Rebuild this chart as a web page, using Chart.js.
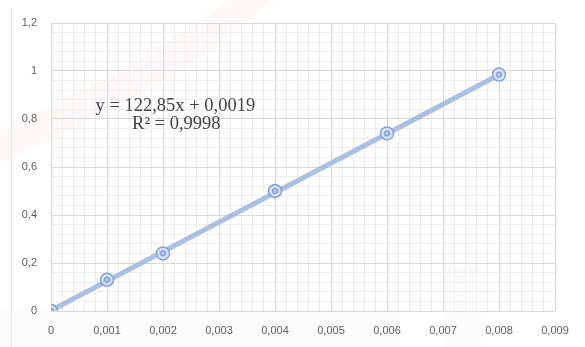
<!DOCTYPE html>
<html>
<head>
<meta charset="utf-8">
<script src="https://cdn.jsdelivr.net/npm/chart.js@4/dist/chart.umd.min.js"></script>
<style>
  html, body { margin: 0; padding: 0; background: #ffffff; }
  #wrap { width: 585px; height: 347px; position: relative; }
</style>
</head>
<body>
<div id="wrap"><canvas id="c" width="585" height="347"></canvas></div>
<script>
// Calibration measurements: concentration (x) and response (y)
const concentrations = [0, 0.001, 0.002, 0.004, 0.006, 0.008];
const responses = [0, 0.13, 0.24, 0.50, 0.74, 0.985];

// Linear trendline coefficients and fit quality
const slope = 122.85;
const intercept = 0.0019;
const rSquared = 0.9998;

// Axis tick labels (major) and gridline steps
const xTickLabels = ['0', '0,001', '0,002', '0,003', '0,004', '0,005', '0,006', '0,007', '0,008', '0,009'];
const yTickLabels = ['0', '0,2', '0,4', '0,6', '0,8', '1', '1,2'];
const xMajorStep = 0.001, xMinorPerMajor = 5;
const yMajorStep = 0.2, yMinorPerMajor = 5;

const points = concentrations.map((x, i) => ({ x, y: responses[i] }));
const xEnd = concentrations[concentrations.length - 1];
const trend = [
  { x: 0, y: intercept },
  { x: xEnd, y: slope * xEnd + intercept }
];

const eqText = 'y = ' + String(slope).replace('.', ',') + 'x + ' + String(intercept).replace('.', ',');
const r2Text = 'R\u00B2 = ' + String(rSquared).replace('.', ',');

// Build major + minor ticks; labels only on the majors
function buildTicks(labels, majorStep, perMajor) {
  const ticks = [];
  const n = (labels.length - 1) * perMajor;
  for (let i = 0; i <= n; i++) {
    const major = i % perMajor === 0;
    ticks.push({ value: +(i * majorStep / perMajor).toFixed(8), major, label: major ? labels[i / perMajor] : '' });
  }
  return ticks;
}

// Faint background decoration behind the plot
const backdrop = {
  id: 'backdrop',
  beforeDraw(chart) {
    const ctx = chart.ctx;
    ctx.save();
    ctx.fillStyle = '#ffffff';
    ctx.fillRect(0, 0, chart.width, chart.height);
    // soft warm arc on the upper left
    ctx.strokeStyle = 'rgba(245, 175, 155, 0.08)';
    ctx.lineWidth = 30;
    ctx.beginPath();
    ctx.moveTo(-10, 150);
    ctx.quadraticCurveTo(160, 80, 262, -10);
    ctx.stroke();
    // soft blue shapes along the bottom
    ctx.fillStyle = 'rgba(175, 198, 232, 0.08)';
    ctx.fillRect(0, 310, 400, 37);
    ctx.fillRect(445, 266, 36, 81);
    ctx.restore();
  },
  afterDraw(chart) {
    const ctx = chart.ctx;
    ctx.save();
    // thin chart frame line on the left
    ctx.strokeStyle = '#e6e6e6';
    ctx.lineWidth = 1;
    ctx.beginPath();
    ctx.moveTo(11.5, 8);
    ctx.lineTo(11.5, 347);
    ctx.stroke();
    // trendline equation
    const xs = chart.scales.x, ys = chart.scales.y;
    ctx.fillStyle = '#454545';
    ctx.font = '18.5px "Liberation Serif", "DejaVu Serif", serif';
    ctx.textAlign = 'center';
    ctx.textBaseline = 'middle';
    const cx = xs.getPixelForValue(0.00222);
    ctx.fillText(eqText, cx, ys.getPixelForValue(0.855));
    ctx.fillText(r2Text, cx + 1, ys.getPixelForValue(0.78));
    ctx.restore();
  }
};

new Chart(document.getElementById('c'), {
  type: 'scatter',
  data: {
    datasets: [
      {
        type: 'line',
        data: trend,
        borderColor: 'rgba(150, 176, 222, 0.8)',
        borderWidth: 5,
        pointRadius: 0,
        fill: false,
        order: 3
      },
      {
        data: points,
        pointRadius: 6.5,
        pointBorderWidth: 1.5,
        borderColor: '#86a2d6',
        backgroundColor: 'rgba(210, 222, 244, 0.9)',
        order: 2
      },
      {
        data: points,
        pointRadius: 2.6,
        pointBorderWidth: 1,
        borderColor: '#7893cd',
        backgroundColor: '#aec1e5',
        order: 1
      }
    ]
  },
  options: {
    responsive: false,
    animation: false,
    events: [],
    layout: { padding: { top: 23, right: 30, left: 0, bottom: 0 } },
    plugins: { legend: { display: false }, tooltip: { enabled: false } },
    scales: {
      x: {
        type: 'linear',
        min: 0,
        max: 0.009,
        afterBuildTicks: s => { s.ticks = buildTicks(xTickLabels, xMajorStep, xMinorPerMajor); },
        afterFit: s => { s.height = 36; },
        border: { display: false },
        grid: {
          drawTicks: false,
          lineWidth: 1,
          color: c => (c.tick && c.tick.major) ? '#d9d9d9' : '#ededed'
        },
        ticks: {
          autoSkip: false,
          maxRotation: 0,
          padding: 13,
          color: '#5f5f5f',
          font: { family: '"Liberation Sans", Arial, sans-serif', size: 11 },
          callback: (v, i, ticks) => ticks[i].label
        }
      },
      y: {
        type: 'linear',
        min: 0,
        max: 1.2,
        afterBuildTicks: s => { s.ticks = buildTicks(yTickLabels, yMajorStep, yMinorPerMajor); },
        afterFit: s => { s.width = 51; },
        border: { display: false },
        grid: {
          drawTicks: false,
          lineWidth: 1,
          color: c => (c.tick && c.tick.major) ? '#d9d9d9' : '#ededed'
        },
        ticks: {
          autoSkip: false,
          padding: 14,
          color: '#5f5f5f',
          font: { family: '"Liberation Sans", Arial, sans-serif', size: 11 },
          callback: (v, i, ticks) => ticks[i].label
        }
      }
    }
  },
  plugins: [backdrop]
});
</script>
</body>
</html>
